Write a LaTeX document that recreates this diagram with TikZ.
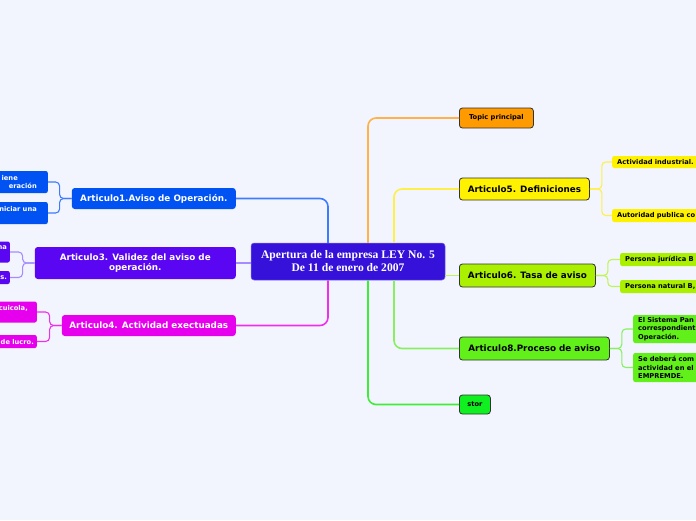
\documentclass[tikz,border=0pt]{standalone}
\usepackage{fontspec}
\newfontfamily\mapsans{DejaVu Sans}
\newfontfamily\mapserif{Liberation Serif}
\usepackage{tikz}
\usetikzlibrary{positioning}

\definecolor{bgpaper}{HTML}{F2F5FD}
\definecolor{ctrfill}{HTML}{3511DA}
\definecolor{ctrdraw}{HTML}{7A6AF2}
\definecolor{topicfill}{HTML}{FF9A00}
\definecolor{topicline}{HTML}{FFB24A}
\definecolor{defsfill}{HTML}{FFF200}
\definecolor{defsline}{HTML}{FFEF4A}
\definecolor{tasafill}{HTML}{AAF000}
\definecolor{tasaline}{HTML}{C2F25A}
\definecolor{procfill}{HTML}{62F01A}
\definecolor{procline}{HTML}{88F060}
\definecolor{storfill}{HTML}{10F020}
\definecolor{storline}{HTML}{3EEE36}
\definecolor{avisofill}{HTML}{0052F2}
\definecolor{avisoline}{HTML}{3D7CFF}
\definecolor{validfill}{HTML}{5A06F2}
\definecolor{validline}{HTML}{A88CFF}
\definecolor{activfill}{HTML}{E600EE}
\definecolor{activline}{HTML}{EE30EE}

\begin{document}
\begin{tikzpicture}[
    x=1pt, y=-1pt,
    central/.style={rectangle, rounded corners=3pt, fill=ctrfill, draw=ctrdraw, line width=0.5pt, inner sep=0pt, minimum width=194pt, minimum height=37pt, align=center, text=white, font=\mapserif\bfseries\fontsize{11.6}{13}\selectfont},
    mainright/.style={rectangle, rounded corners=3pt, draw=black!80, line width=0.8pt, inner sep=0pt, text=black, font=\mapsans\bfseries\fontsize{8.8}{10.5}\selectfont},
    mainleft/.style={rectangle, rounded corners=3pt, inner sep=0pt, align=center, text=white, font=\mapsans\bfseries\fontsize{8.8}{10.5}\selectfont},
    smallright/.style={rectangle, rounded corners=3pt, draw=black!80, line width=0.8pt, inner sep=0pt, text=black, font=\mapsans\bfseries\fontsize{6.7}{8.3}\selectfont},
    leafright/.style={rectangle, rounded corners=2pt, anchor=west, inner xsep=5pt, inner ysep=0pt, text width=90pt, align=left, text=black, font=\mapsans\bfseries\fontsize{6.7}{8.3}\selectfont},
    leafleft/.style={rectangle, rounded corners=2pt, anchor=east, inner xsep=3pt, inner ysep=0pt, text width=80pt, align=right, text=white, font=\mapsans\bfseries\fontsize{6.7}{8.3}\selectfont},
    branch/.style={line width=1.6pt, rounded corners=8pt},
    twig/.style={line width=1.1pt, rounded corners=4pt}
]

% Paper
\fill[bgpaper] (0,0) rectangle (696,520);
\useasboundingbox (0,0) rectangle (696,520);
\clip (0,0) rectangle (696,520);

% Central topic
\node[central] (ley) at (348,261.5) {Apertura de la empresa LEY No. 5\\De 11 de enero de 2007};

% Right side topics
\node[smallright, fill=topicfill, anchor=west, minimum width=74pt, minimum height=20pt] (topic) at (459,118) {Topic principal};
\node[mainright, fill=defsfill, anchor=west, minimum width=130pt, minimum height=22pt] (art5) at (459,189) {Articulo5. Definiciones};
\node[mainright, fill=tasafill, anchor=west, minimum width=136pt, minimum height=23pt] (art6) at (459,275.5) {Articulo6. Tasa de aviso};
\node[mainright, fill=procfill, anchor=west, minimum width=150pt, minimum height=23pt] (art8) at (459,348.5) {Articulo8.Proceso de aviso};
\node[smallright, fill=storfill, anchor=west, minimum width=31pt, minimum height=19pt] (stor) at (459,404.5) {stor};

% Left side topics
\node[mainleft, fill=avisofill, anchor=east, minimum width=164pt, minimum height=21pt] (art1) at (236,198.5) {Articulo1.Aviso de Operación.};
\node[mainleft, fill=validfill, anchor=east, minimum width=201pt, minimum height=32pt] (art3) at (236,263) {Articulo3. Validez del aviso de\\operación.};
\node[mainleft, fill=activfill, anchor=east, minimum width=174pt, minimum height=21pt] (art4) at (236,325.5) {Articulo4. Actividad exectuadas};

% Subtopics right
\node[leafright, fill=defsfill, minimum height=12pt] (def1) at (612,162) {Actividad industrial.};
\node[leafright, fill=defsfill, minimum height=13pt] (def2) at (612,215.5) {Autoridad publica co};
\node[leafright, fill=tasafill, minimum height=13pt] (tasa1) at (620,259.5) {Persona jurídica B};
\node[leafright, fill=tasafill, minimum height=13pt] (tasa2) at (620,286.5) {Persona natural B,};
\node[leafright, fill=procfill, minimum height=28pt] (proc1) at (633,329) {El Sistema Pan\\correspondient\\Operación.};
\node[leafright, fill=procfill, minimum height=29pt] (proc2) at (633,367.5) {Se deberá com\\actividad en el\\EMPREMDE.};

% Subtopics left
\node[leafleft, fill=avisofill, minimum height=22pt] (aviso1) at (48,182) {iene\kern27pt\\eración\kern8pt};
\node[leafleft, fill=avisofill, minimum height=22pt] (aviso2) at (48,213) {iniciar una\kern8pt\\\mbox{}};
\node[leafleft, fill=validfill, minimum height=21pt] (valid1) at (10,252) {na\\\mbox{}};
\node[leafleft, fill=validfill, minimum height=13pt] (valid2) at (10,277.5) {s.};
\node[leafleft, fill=activfill, minimum height=21pt] (activ1) at (37,312) {cuicola,\kern6pt\\\mbox{}};
\node[leafleft, fill=activfill, minimum height=13pt] (activ2) at (37,341.5) {de lucro.};

% Branches from the centre
\draw[branch, topicline] ([xshift=20pt]ley.north) |- (topic.west);
\draw[branch, defsline] ([xshift=46pt]ley.north) |- (art5.west);
\draw[branch, tasaline] (art6.west -| ley.east) -- (art6.west);
\draw[branch, procline] ([xshift=46pt]ley.south) |- (art8.west);
\draw[branch, storline] ([xshift=20pt]ley.south) |- (stor.west);
\draw[branch, avisoline] ([xshift=-20pt]ley.north) |- (art1.east);
\draw[branch, validline] (art3.east -| ley.west) -- (art3.east);
\draw[branch, activline] ([xshift=-20pt]ley.south) |- (art4.east);

% Twigs
\foreach \leaf in {def1, def2}
  \draw[twig, defsline] (art5.east) -- ++(12pt,0) |- (\leaf.west);
\foreach \leaf in {tasa1, tasa2}
  \draw[twig, tasaline] (art6.east) -- ++(12pt,0) |- (\leaf.west);
\foreach \leaf in {proc1, proc2}
  \draw[twig, procline] (art8.east) -- ++(12pt,0) |- (\leaf.west);
\foreach \leaf in {aviso1, aviso2}
  \draw[twig, avisoline] (art1.west) -- ++(-12pt,0) |- (\leaf.east);
\foreach \leaf in {valid1, valid2}
  \draw[twig, validline] (art3.west) -- ++(-12pt,0) |- (\leaf.east);
\foreach \leaf in {activ1, activ2}
  \draw[twig, activline] (art4.west) -- ++(-12pt,0) |- (\leaf.east);

\end{tikzpicture}
\end{document}
